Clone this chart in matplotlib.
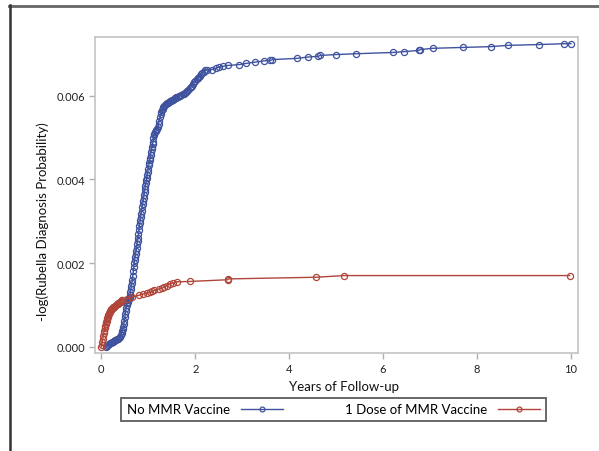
import matplotlib
matplotlib.use("Agg")
import matplotlib.pyplot as plt
from matplotlib.lines import Line2D

plt.rcParams['font.family'] = ['Lato', 'DejaVu Sans']

# ---- data ----
no_mmr_years = [0.10, 0.12, 0.14, 0.16, 0.18, 0.20, 0.22, 0.24, 0.26, 0.28,
                0.30, 0.32, 0.34, 0.36, 0.38, 0.40, 0.42, 0.43, 0.45, 0.46,
                0.47, 0.48, 0.49, 0.50, 0.51, 0.52, 0.53, 0.54, 0.55, 0.56,
                0.57, 0.58, 0.59, 0.60, 0.61, 0.62, 0.63, 0.64, 0.65, 0.66,
                0.67, 0.68, 0.69, 0.70, 0.71, 0.72, 0.73, 0.74, 0.75, 0.76,
                0.77, 0.78, 0.79, 0.80, 0.81, 0.82, 0.83, 0.84, 0.85, 0.86,
                0.87, 0.88, 0.89, 0.90, 0.91, 0.92, 0.93, 0.94, 0.95, 0.96,
                0.97, 0.98, 0.99, 1.00, 1.01, 1.02, 1.03, 1.04, 1.05, 1.06,
                1.07, 1.08, 1.09, 1.10, 1.11, 1.12, 1.13, 1.14, 1.16, 1.17,
                1.19, 1.20, 1.22, 1.23, 1.25, 1.26, 1.28, 1.29, 1.31, 1.32,
                1.34, 1.36, 1.38, 1.40, 1.42, 1.44, 1.46, 1.48, 1.50, 1.52,
                1.54, 1.56, 1.58, 1.60, 1.63, 1.65, 1.68, 1.70, 1.73, 1.75,
                1.78, 1.80, 1.83, 1.85, 1.88, 1.90, 1.93, 1.95, 1.98, 2.00,
                2.03, 2.05, 2.08, 2.10, 2.13, 2.15, 2.18, 2.20, 2.25, 2.35,
                2.45, 2.50, 2.60, 2.69, 2.93, 3.09,
                3.28, 3.47, 3.60, 3.64, 4.17, 4.39, 4.62, 4.66, 4.99, 5.42,
                6.20, 6.45, 6.76, 6.79, 7.06, 7.70, 8.29, 8.65, 9.32, 9.86, 10.00]
no_mmr_value = [0.00000, 0.00002, 0.00004, 0.00006, 0.00008, 0.00010, 0.00011, 0.00012, 0.00013, 0.00014,
                0.00015, 0.00016, 0.00018, 0.00019, 0.00021, 0.00023, 0.00028, 0.00032, 0.00038, 0.00042,
                0.00048, 0.00055, 0.00062, 0.00070, 0.00078, 0.00085, 0.00093, 0.00100, 0.00104, 0.00108,
                0.00111, 0.00113, 0.00116, 0.00118, 0.00124, 0.00130, 0.00138, 0.00145, 0.00152, 0.00160,
                0.00170, 0.00180, 0.00190, 0.00200, 0.00208, 0.00215, 0.00222, 0.00228, 0.00236, 0.00245,
                0.00252, 0.00260, 0.00270, 0.00280, 0.00288, 0.00295, 0.00303, 0.00310, 0.00318, 0.00325,
                0.00333, 0.00340, 0.00348, 0.00355, 0.00363, 0.00370, 0.00378, 0.00385, 0.00392, 0.00398,
                0.00404, 0.00410, 0.00418, 0.00425, 0.00433, 0.00440, 0.00446, 0.00452, 0.00459, 0.00465,
                0.00472, 0.00478, 0.00484, 0.00490, 0.00498, 0.00505, 0.00509, 0.00512, 0.00515, 0.00518,
                0.00521, 0.00525, 0.00532, 0.00540, 0.00548, 0.00555, 0.00560, 0.00565, 0.00569, 0.00572,
                0.00575, 0.00578, 0.00580, 0.00582, 0.00583, 0.00584, 0.00586, 0.00587, 0.00589, 0.00590,
                0.00592, 0.00594, 0.00595, 0.00596, 0.00597, 0.00598, 0.00600, 0.00602, 0.00603, 0.00605,
                0.00606, 0.00608, 0.00611, 0.00614, 0.00617, 0.00620, 0.00624, 0.00628, 0.00632, 0.00636,
                0.00639, 0.00642, 0.00645, 0.00648, 0.00651, 0.00654, 0.00657, 0.00660, 0.00662, 0.00662,
                0.00666, 0.00668, 0.00670, 0.00672, 0.00674, 0.00677,
                0.00680, 0.00683, 0.00684, 0.00686, 0.00689, 0.00692, 0.00694, 0.00696, 0.00698, 0.00700,
                0.00703, 0.00705, 0.00708, 0.00710, 0.00713, 0.00715, 0.00717, 0.00720, 0.00722, 0.00724, 0.00724]

dose1_years = [0.00, 0.01, 0.02, 0.03, 0.04, 0.05, 0.06, 0.07, 0.08, 0.09,
               0.10, 0.11, 0.12, 0.13, 0.14, 0.15, 0.16, 0.17, 0.18, 0.19,
               0.20, 0.21, 0.22, 0.24, 0.25, 0.27, 0.28, 0.30, 0.31, 0.33,
               0.35, 0.36, 0.38, 0.39, 0.41, 0.42, 0.44, 0.45, 0.55, 0.65,
               0.80, 0.89, 0.97, 1.03, 1.08, 1.13, 1.22, 1.29, 1.33, 1.40,
               1.46, 1.53, 1.61, 1.89, 2.69, 2.70, 4.57, 5.17, 9.97]
dose1_value = [0.00000, 0.00005, 0.00012, 0.00018, 0.00025, 0.00032, 0.00038, 0.00045, 0.00050, 0.00054,
               0.00058, 0.00062, 0.00066, 0.00069, 0.00072, 0.00075, 0.00078, 0.00081, 0.00084, 0.00086,
               0.00088, 0.00090, 0.00091, 0.00093, 0.00094, 0.00095, 0.00096, 0.00098, 0.00099, 0.00101,
               0.00102, 0.00104, 0.00105, 0.00107, 0.00108, 0.00110, 0.00111, 0.00112, 0.00115, 0.00118,
               0.00123, 0.00126, 0.00128, 0.00130, 0.00132, 0.00135, 0.00138, 0.00140, 0.00142, 0.00146,
               0.00150, 0.00152, 0.00155, 0.00156, 0.00160, 0.00162, 0.00166, 0.00170, 0.00170]

x_ticks = [0, 2, 4, 6, 8, 10]
x_tick_labels = ["0", "2", "4", "6", "8", "10"]
y_ticks = [0.000, 0.002, 0.004, 0.006]
y_tick_labels = ["0.000", "0.002", "0.004", "0.006"]
series_labels = ["No MMR Vaccine", "1 Dose of MMR Vaccine"]

BLUE = "#3f529e"
RED = "#b0463a"

W, H = 599, 452
fig = plt.figure(figsize=(W / 100, H / 100), dpi=100)
ax = fig.add_axes([95 / W, 1 - 354 / H, (578 - 95) / W, (354 - 38) / H])

l1, = ax.plot(no_mmr_years, no_mmr_value, color=BLUE, lw=1.0, marker='o', ms=4.4,
              mfc='none', mec=BLUE, mew=0.9)
l2, = ax.plot(dose1_years, dose1_value, color=RED, lw=1.0, marker='o', ms=4.4,
              mfc='none', mec=RED, mew=0.9)

ax.set_xlim(-0.135, 10.15)
ax.set_ylim(-0.00015, 0.0074)
ax.set_xticks(x_ticks)
ax.set_xticklabels(x_tick_labels)
ax.set_yticks(y_ticks)
ax.set_yticklabels(y_tick_labels)
for s in ax.spines.values():
    s.set_color("#c4c4c4")
    s.set_linewidth(1.2)
ax.tick_params(direction='out', length=4, width=1, color="#b0b0b0",
               labelsize=8, labelcolor="#222222", pad=3)

fig.text(344 / W, 1 - 387 / H, "Years of Follow-up", ha='center', va='center',
         fontsize=9.5, color="#111111")
fig.text(43 / W, 1 - 222 / H, "-log(Rubella Diagnosis Probability)", ha='center',
         va='center', rotation=90, fontsize=9.5, color="#111111")

leg = fig.legend([l1, l2], series_labels, ncol=2, markerfirst=False,
                 loc='center', mode='expand',
                 bbox_to_anchor=(121 / W, 1 - 424 / H, 425 / W, 27 / H),
                 frameon=True, fancybox=False, edgecolor="#333333",
                 fontsize=9.5, handlelength=3.2, borderaxespad=0,
                 borderpad=0.45, columnspacing=4.0, handletextpad=0.8)
leg.get_frame().set_linewidth(1.3)
for h in leg.legend_handles:
    h.set_markersize(3.5)

# outer frame
fig.add_artist(Line2D([9 / W, 1], [1 - 6.5 / H, 1 - 6.5 / H], transform=fig.transFigure,
                      color="#666666", lw=2))
fig.add_artist(Line2D([9.5 / W, 9.5 / W], [0, 1 - 6 / H], transform=fig.transFigure,
                      color="#333333", lw=1.8))

fig.savefig("out.png", dpi=100)
